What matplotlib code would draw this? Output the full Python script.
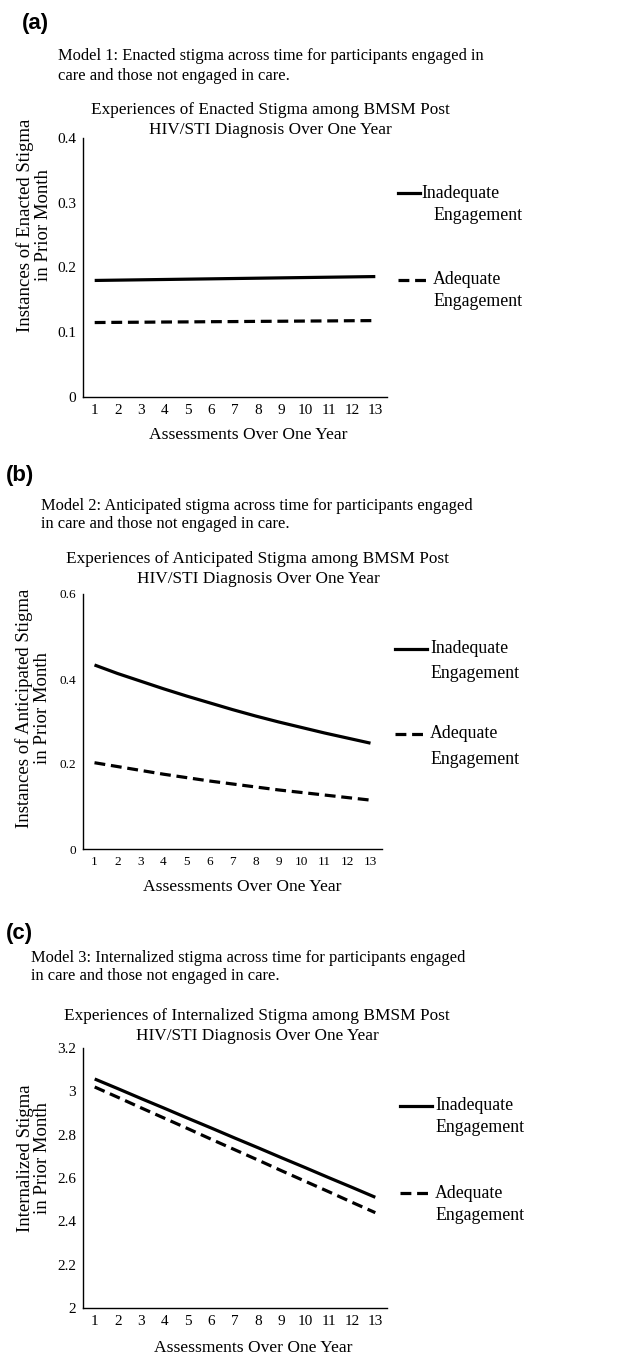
import numpy as np
import matplotlib
matplotlib.use("Agg")
import matplotlib.pyplot as plt
from matplotlib.lines import Line2D

W, H = 628, 1359

assessments = list(range(1, 14))

# (a) enacted stigma
enacted_inadequate = [0.180, 0.1805, 0.181, 0.1815, 0.182, 0.1825, 0.183, 0.1835, 0.184, 0.1845, 0.185, 0.1855, 0.186]
enacted_adequate = [0.115, 0.1153, 0.1155, 0.1158, 0.116, 0.1163, 0.1165, 0.1168, 0.117, 0.1173, 0.1175, 0.1178, 0.118]

# (b) anticipated stigma
anticipated_inadequate = [0.433, 0.413, 0.395, 0.377, 0.360, 0.344, 0.328, 0.313, 0.299, 0.286, 0.273, 0.261, 0.249]
anticipated_adequate = [0.203, 0.194, 0.185, 0.176, 0.168, 0.160, 0.153, 0.146, 0.139, 0.133, 0.127, 0.121, 0.115]

# (c) internalized stigma
internalized_inadequate = [3.057, 3.012, 2.966, 2.921, 2.875, 2.830, 2.784, 2.739, 2.693, 2.648, 2.602, 2.557, 2.511]
internalized_adequate = [3.020, 2.972, 2.923, 2.875, 2.827, 2.778, 2.730, 2.682, 2.633, 2.585, 2.537, 2.488, 2.440]

yticks_a = [0, 0.1, 0.2, 0.3, 0.4]
ytick_labels_a = ["0", "0.1", "0.2", "0.3", "0.4"]
yticks_b = [0, 0.2, 0.4, 0.6]
ytick_labels_b = ["0", "0.2", "0.4", "0.6"]
yticks_c = [2, 2.2, 2.4, 2.6, 2.8, 3, 3.2]
ytick_labels_c = ["2", "2.2", "2.4", "2.6", "2.8", "3", "3.2"]

SERIF = "Liberation Serif"
SANS = "Liberation Sans"

fig = plt.figure(figsize=(W / 100, H / 100), dpi=100)


def fx(x):
    return x / W


def fy(y):
    return 1 - y / H


def panel(box, inadequate, adequate, yticks, ylabels, ylim, tick_fs,
          letter, letter_pos, caption, cap_pos, title, title_pos,
          ylabel, ylab_pos, xlab_pos, leg):
    left, top, right, bottom = box
    ax = fig.add_axes([fx(left), fy(bottom), fx(right - left), (bottom - top) / H])
    ax.plot(assessments, inadequate, color="black", lw=2.3, solid_capstyle="butt")
    ax.plot(assessments, adequate, color="black", lw=2.3, ls=(0, (3.4, 1.8)))
    ax.set_xlim(0.5, 13.5)
    ax.set_ylim(*ylim)
    ax.set_xticks(assessments)
    ax.set_xticklabels([str(a) for a in assessments], fontfamily=SERIF, fontsize=tick_fs)
    ax.set_yticks(yticks)
    ax.set_yticklabels(ylabels, fontfamily=SERIF, fontsize=tick_fs)
    ax.tick_params(length=0, pad=5)
    for s in ["top", "right"]:
        ax.spines[s].set_visible(False)
    for s in ["left", "bottom"]:
        ax.spines[s].set_linewidth(1.0)

    fig.text(fx(letter_pos[0]), fy(letter_pos[1]), letter, fontfamily=SANS,
             fontweight="bold", fontsize=16, va="center", ha="left")
    fig.text(fx(cap_pos[0]), fy(cap_pos[1]), caption, fontfamily=SERIF,
             fontsize=11.9, va="center", ha="left", linespacing=1.25)
    fig.text(fx(title_pos[0]), fy(title_pos[1]), title, fontfamily=SERIF,
             fontsize=12.4, va="center", ha="center", linespacing=1.4)
    fig.text(fx(ylab_pos[0]), fy(ylab_pos[1]), ylabel, fontfamily=SERIF,
             fontsize=13.5, va="center", ha="center", rotation=90, linespacing=1.05)
    fig.text(fx(xlab_pos[0]), fy(xlab_pos[1]), "Assessments Over One Year",
             fontfamily=SERIF, fontsize=12.6, va="center", ha="center")

    # legend drawn by hand, handle aligned with the first text line
    (x0, xs1, xd1, xt1, xt), (ys, ye1, yd, ye2) = leg
    fig.add_artist(Line2D([fx(x0), fx(xs1)], [fy(ys), fy(ys)], color="black", lw=2.3))
    fig.add_artist(Line2D([fx(x0), fx(xd1)], [fy(yd), fy(yd)], color="black", lw=2.3,
                          ls=(0, (3.4, 1.8))))
    fig.text(fx(xt1), fy(ys), "Inadequate", fontfamily=SERIF, fontsize=12.8, va="center")
    fig.text(fx(xt), fy(ye1), "Engagement", fontfamily=SERIF, fontsize=12.8, va="center")
    fig.text(fx(xt), fy(yd), "Adequate", fontfamily=SERIF, fontsize=12.8, va="center")
    fig.text(fx(xt), fy(ye2), "Engagement", fontfamily=SERIF, fontsize=12.8, va="center")
    return ax


panel((83, 138, 387, 397), enacted_inadequate, enacted_adequate,
      yticks_a, ytick_labels_a, (0, 0.4), 11,
      "(a)", (22, 23),
      "Model 1: Enacted stigma across time for participants engaged in\ncare and those not engaged in care.",
      (58, 66),
      "Experiences of Enacted Stigma among BMSM Post\nHIV/STI Diagnosis Over One Year",
      (270, 120),
      "Instances of Enacted Stigma\nin Prior Month", (34, 225), (248, 435),
      ((398, 420, 428, 421, 433), (193, 216, 280, 302)))

panel((83, 594, 382, 849), anticipated_inadequate, anticipated_adequate,
      yticks_b, ytick_labels_b, (0, 0.6), 9.5,
      "(b)", (6, 476),
      "Model 2: Anticipated stigma across time for participants engaged\nin care and those not engaged in care.",
      (41, 515),
      "Experiences of Anticipated Stigma among BMSM Post\nHIV/STI Diagnosis Over One Year",
      (258, 569),
      "Instances of Anticipated Stigma\nin Prior Month", (33, 708), (242, 887),
      ((395, 427, 424, 430, 430), (649, 673, 734, 759)))

panel((83, 1048, 387, 1308), internalized_inadequate, internalized_adequate,
      yticks_c, ytick_labels_c, (2, 3.2), 11,
      "(c)", (6, 933),
      "Model 3: Internalized stigma across time for participants engaged\nin care and those not engaged in care.",
      (31, 967),
      "Experiences of Internalized Stigma among BMSM Post\nHIV/STI Diagnosis Over One Year",
      (257, 1026),
      "Internalized Stigma\nin Prior Month", (34, 1158), (253, 1348),
      ((400, 432, 429, 435, 435), (1106, 1128, 1193, 1216)))

fig.savefig("out.png", dpi=100)
